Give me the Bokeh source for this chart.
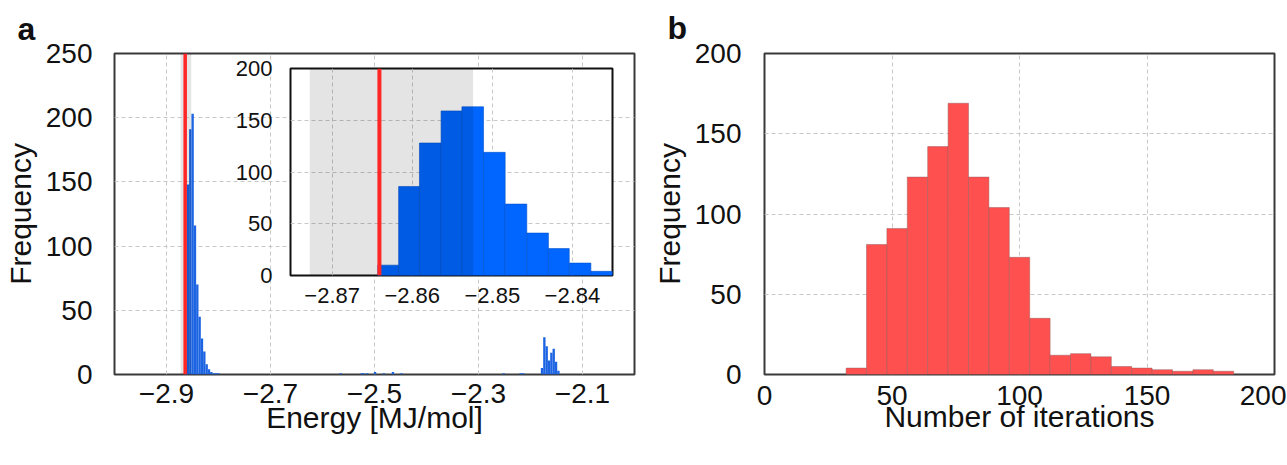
from bokeh.plotting import figure
from bokeh.models import Range1d, FixedTicker, BoxAnnotation, Span, Title
from bokeh.layouts import row
from bokeh.embed import file_html
from bokeh.resources import INLINE

# ---------------- data ----------------
# Panel a, main histogram (energy, MJ/mol)
main_bin_width = 0.0045
peak_start = -2.8655
peak_counts = [10, 148, 191, 203, 116, 70, 45, 28, 18, 8, 4, 2, 1, 1, 1]
cluster_start = -2.1801
cluster_counts = [5, 29, 22, 11, 17, 20, 10, 3]
sparse_energy = [-2.565, -2.525, -2.521, -2.514, -2.499, -2.482, -2.4645, -2.448, -2.2515, -2.219, -2.214]
sparse_counts = [1, 1, 1, 1, 2, 1, 2, 1, 1, 1, 1]

# Panel a, inset histogram
inset_edges = [-2.8643, -2.8617, -2.8591, -2.8564, -2.8538, -2.8511, -2.8484,
               -2.8457, -2.8430, -2.8404, -2.8377, -2.8350]
inset_counts = [10, 86, 128, 159, 163, 119, 69, 41, 26, 12, 4]

reference_energy = -2.8641
band_energy = [-2.8728, -2.8524]

energy_ticks = [-2.9, -2.7, -2.5, -2.3, -2.1]
inset_energy_ticks = [-2.87, -2.86, -2.85, -2.84]
freq_ticks_a = [0, 50, 100, 150, 200, 250]
inset_freq_ticks = [0, 50, 100, 150, 200]

# Panel b, iterations histogram
iter_edges = [32, 40, 48, 56, 64, 72, 80, 88, 96, 104, 112, 120, 128, 136, 144,
              152, 160, 168, 176, 184]
iter_counts = [4, 81, 91, 123, 142, 169, 123, 104, 73, 35, 12, 13, 11, 5, 4, 3, 2, 3, 2]
iter_ticks = [0, 50, 100, 150, 200]
freq_ticks_b = [0, 50, 100, 150, 200]

FONT = "Liberation Sans"
GRID_COLOR = "#c8c8c8"
TEXT = "#111111"


def style(p, xticks, yticks, tick_size="28px", outline="#3a3a3a"):
    p.xaxis.ticker = FixedTicker(ticks=xticks)
    p.yaxis.ticker = FixedTicker(ticks=yticks)
    p.xgrid.ticker = FixedTicker(ticks=xticks)
    p.ygrid.ticker = FixedTicker(ticks=yticks)
    for ax in (p.xaxis, p.yaxis):
        ax.major_tick_line_color = None
        ax.minor_tick_line_color = None
        ax.axis_line_color = None
        ax.major_label_text_font = FONT
        ax.major_label_text_font_size = tick_size
        ax.major_label_text_color = TEXT
        ax.axis_label_text_font = FONT
        ax.axis_label_text_font_size = "30px"
        ax.axis_label_text_font_style = "normal"
        ax.axis_label_text_color = TEXT
    for g in (p.xgrid, p.ygrid):
        g.grid_line_color = GRID_COLOR
        g.grid_line_dash = "4 3"
        g.grid_line_width = 1
    p.outline_line_color = outline
    p.outline_line_width = 2


def letter(t, offset, standoff):
    return Title(text=t, align="left", offset=offset, text_font=FONT, text_font_size="32px",
                 text_font_style="bold", text_color=TEXT, standoff=standoff)


# ---------------- panel a ----------------
pa = figure(width=649, height=455,
            min_border_left=113, min_border_right=15, min_border_top=52, min_border_bottom=81,
            x_range=Range1d(-3.0, -2.0), y_range=Range1d(0, 250), title=letter("a", -97, 13),
            output_backend="svg", toolbar_location=None)
style(pa, energy_ticks, freq_ticks_a)
pa.xaxis.axis_label = "Energy [MJ/mol]"
pa.yaxis.axis_label = "Frequency"
pa.xaxis.major_label_standoff = 3
pa.yaxis.major_label_standoff = 16
pa.xaxis.axis_label_standoff = -5
pa.yaxis.axis_label_standoff = 6

peak_left = [peak_start + i * main_bin_width for i in range(len(peak_counts))]
pa.quad(left=peak_left, right=[l + main_bin_width for l in peak_left], top=peak_counts, bottom=0,
        fill_color="#1c64e2", line_color=None)
cl_left = [cluster_start + i * main_bin_width for i in range(len(cluster_counts))]
pa.quad(left=cl_left, right=[l + main_bin_width for l in cl_left], top=cluster_counts, bottom=0,
        fill_color="#1c64e2", line_color=None)
pa.quad(left=[e - main_bin_width / 2 for e in sparse_energy],
        right=[e + main_bin_width / 2 for e in sparse_energy], top=sparse_counts, bottom=0,
        fill_color="#1c64e2", line_color=None)
pa.add_layout(BoxAnnotation(left=band_energy[0], right=band_energy[1], fill_color="black",
                            fill_alpha=0.1, line_alpha=0))
pa.add_layout(Span(location=reference_energy, dimension="height", line_color="#ff2626", line_width=3.5))

# ---------------- inset ----------------
pin = figure(width=386, height=266, title=None,
             min_border_left=60, min_border_right=4, min_border_top=14, min_border_bottom=45,
             x_range=Range1d(-2.8752, -2.835), y_range=Range1d(0, 200),
             output_backend="svg", toolbar_location=None,
             background_fill_color="white", border_fill_alpha=0,
             styles={"position": "absolute", "left": "230px", "top": "54px"})
pin.frame_align = False
style(pin, inset_energy_ticks, inset_freq_ticks, tick_size="22px", outline="#111111")
pin.xaxis.major_label_standoff = 6
pin.yaxis.major_label_standoff = 12
pin.quad(left=inset_edges[:-1], right=inset_edges[1:], top=inset_counts, bottom=0,
         fill_color="#0066ff", line_color="#0052cc", line_width=0.6)
pin.add_layout(BoxAnnotation(left=band_energy[0], right=band_energy[1], fill_color="black",
                             fill_alpha=0.105, line_alpha=0))
pin.add_layout(Span(location=reference_energy, dimension="height", line_color="#ff2626", line_width=4))

# ---------------- panel b ----------------
pb = figure(width=637, height=455,
            min_border_left=114, min_border_right=12, min_border_top=52, min_border_bottom=81,
            x_range=Range1d(0, 200), y_range=Range1d(0, 200), title=letter("b", -97, 15),
            output_backend="svg", toolbar_location=None)
style(pb, iter_ticks, freq_ticks_b)
pb.xaxis.axis_label = "Number of iterations"
pb.yaxis.axis_label = "Frequency"
pb.xaxis.major_label_standoff = 5
pb.yaxis.major_label_standoff = 17
pb.xaxis.axis_label_standoff = -8
pb.yaxis.axis_label_standoff = 6
pb.quad(left=iter_edges[:-1], right=iter_edges[1:], top=iter_counts, bottom=0,
        fill_color="#ff5050", line_color="#9a5a5a", line_width=0.7, line_alpha=0.7)

layout = row(pa, pb, pin)
open("out.html", "w").write(file_html(layout, INLINE))
